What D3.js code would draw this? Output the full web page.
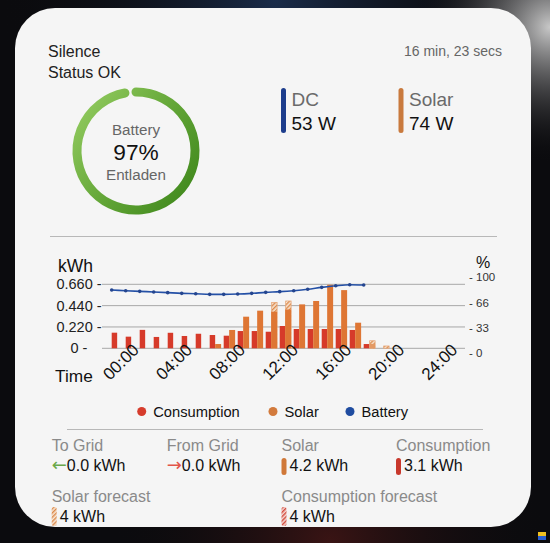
<!DOCTYPE html>
<html><head><meta charset="utf-8">
<script src="https://cdn.jsdelivr.net/npm/d3@7"></script>
<style>
html,body{margin:0;padding:0;width:550px;height:543px;overflow:hidden;background:#0b0b0e;}
svg{display:block;font-family:"Liberation Sans",Arial,Helvetica,sans-serif;}
</style></head><body>
<svg id="c" width="550" height="543"></svg>
<script>
// ---------- data ----------
const hours = d3.range(0, 19);
const consumption = [0.161,0.12,0.19,0.117,0.16,0.127,0.15,0.137,0.13,0.178,0.178,0.171,0.23,0.199,0.199,0.199,0.199,0.189,0.044];
const solar = [0,0,0,0,0,0,0,0.044,0.189,0.326,0.388,0.378,0.40,0.453,0.488,0.655,0.60,0.264,0.045];
const forecastHours = [11,12,18,19];
const solarForecast = [0.474,0.488,0.078,0.024];
const battery = [82.9,82.0,81.1,80.3,79.4,78.5,78.0,77.2,77.2,77.6,78.5,79.8,80.7,82.0,83.8,86.4,88.5,89.9,89.5];
const kwhTicks = [0,0.22,0.44,0.66];
const kwhTickLabels = ["0","0.220","0.440","0.660"];
const pctTicks = [0,33,66,100];
const timeTicks = [0,4,8,12,16,20,24];
const legendItems = [["Consumption","#d63c2c"],["Solar","#d27a3c"],["Battery","#1f4ca0"]];

const C = {red:"#d63a2a", orange:"#de7634", blue:"#2450a6", grid:"#a8a8a8"};

const svg = d3.select("#c");
const defs = svg.append("defs");

// background glows
const bg1 = defs.append("radialGradient").attr("id","bgBlue").attr("cx","0.5").attr("cy","0").attr("r","0.5");
bg1.append("stop").attr("offset","0").attr("stop-color","#1a2c4a");
bg1.append("stop").attr("offset","1").attr("stop-color","#0b0b0e").attr("stop-opacity",0);
const bg2 = defs.append("radialGradient").attr("id","bgGray").attr("cx","1").attr("cy","0.05").attr("r","0.25");
bg2.append("stop").attr("offset","0").attr("stop-color","#c8c8c8");
bg2.append("stop").attr("offset","1").attr("stop-color","#0b0b0e").attr("stop-opacity",0);
const bg3 = defs.append("radialGradient").attr("id","bgRed").attr("cx","0.6").attr("cy","1").attr("r","0.4");
bg3.append("stop").attr("offset","0").attr("stop-color","#3a1414");
bg3.append("stop").attr("offset","1").attr("stop-color","#0b0b0e").attr("stop-opacity",0);
svg.append("rect").attr("width",550).attr("height",543).attr("fill","#0b0b0e");
svg.append("rect").attr("width",550).attr("height",543).attr("fill","url(#bgBlue)");
svg.append("rect").attr("width",550).attr("height",543).attr("fill","url(#bgGray)");
svg.append("rect").attr("width",550).attr("height",543).attr("fill","url(#bgRed)");
svg.append("rect").attr("x",538).attr("y",532).attr("width",8).attr("height",4).attr("fill","#f0c020");
svg.append("rect").attr("x",538).attr("y",536).attr("width",8).attr("height",4).attr("fill","#2a60d0");

// card
svg.append("rect").attr("x",15).attr("y",8).attr("width",516).attr("height",519).attr("rx",40).attr("fill","#f5f5f5");

// patterns
function hatch(id, bgc, line){
  const p = defs.append("pattern").attr("id",id).attr("patternUnits","userSpaceOnUse")
    .attr("width",3).attr("height",3).attr("patternTransform","rotate(45)");
  p.append("rect").attr("width",3).attr("height",3).attr("fill",bgc);
  p.append("rect").attr("width",1.4).attr("height",3).attr("fill",line);
}
hatch("hatchO","#f8e6d4","#dc8a4c");
hatch("hatchR","#f5d8d4","#d2483a");

// header
svg.append("text").attr("x",48).attr("y",57).attr("font-size",16).attr("fill","#222").text("Silence");
svg.append("text").attr("x",48).attr("y",78).attr("font-size",16).attr("fill","#222").text("Status OK");
svg.append("text").attr("x",502).attr("y",56).attr("font-size",14).attr("fill","#666").attr("text-anchor","end").text("16 min, 23 secs");

// donut
const dg = defs.append("linearGradient").attr("id","donutG").attr("gradientUnits","userSpaceOnUse")
  .attr("x1",-60).attr("y1",-30).attr("x2",60).attr("y2",60);
dg.append("stop").attr("offset","0").attr("stop-color","#8cc65a");
dg.append("stop").attr("offset","0.5").attr("stop-color","#5fa334");
dg.append("stop").attr("offset","1").attr("stop-color","#3b8419");
const batteryPct = 97;
const ringScale = d3.scaleLinear().domain([0,100]).range([-Math.PI/2, 1.5*Math.PI]);
const ring = d3.path();
ring.arc(0,0,59,ringScale(0),ringScale(batteryPct));
const dgrp = svg.append("g").attr("transform","translate(136,151)");
dgrp.append("path").attr("d", ring.toString())
  .attr("fill","none").attr("stroke","url(#donutG)").attr("stroke-width",9).attr("stroke-linecap","round");
dgrp.append("text").attr("y",-16).attr("text-anchor","middle").attr("font-size",15.2).attr("fill","#666").text("Battery");
dgrp.append("text").attr("y",9).attr("text-anchor","middle").attr("font-size",22.7).attr("fill","#111").text(batteryPct+"%");
dgrp.append("text").attr("y",29).attr("text-anchor","middle").attr("font-size",15.2).attr("fill","#666").text("Entladen");

// DC / Solar tiles
const tiles = [["DC","53 W","#1d3d8c",281],["Solar","74 W","#c97a3e",398.5]];
tiles.forEach(t=>{
  svg.append("rect").attr("x",t[3]).attr("y",88).attr("width",5).attr("height",45).attr("rx",2.5).attr("fill",t[2]);
  svg.append("text").attr("x",t[3]+10.5).attr("y",106).attr("font-size",19).attr("fill","#6a6a6a").text(t[0]);
  svg.append("text").attr("x",t[3]+10.5).attr("y",130).attr("font-size",19).attr("fill","#111").text(t[1]);
});

svg.append("line").attr("x1",50).attr("x2",497).attr("y1",236.5).attr("y2",236.5).attr("stroke","#b8b8b8");

// ---------- chart ----------
const x = d3.scaleLinear().domain([0,24]).range([111.7,447.7]);
const xt = d3.scaleLinear().domain([0,24]).range([121.5,440]);
const y = d3.scaleLinear().domain([0,0.66]).range([348.3,284.3]);
const y2 = d3.scaleLinear().domain([0,100]).range([353,277]);
const bw = (x(1)-x(0))*0.39;

svg.append("text").attr("x",58).attr("y",272).attr("font-size",17.5).attr("fill","#111").text("kWh");
svg.append("text").attr("x",483).attr("y",268).attr("font-size",16).attr("fill","#111").attr("text-anchor","middle").text("%");
svg.append("text").attr("x",55).attr("y",382).attr("font-size",17.3).attr("fill","#111").text("Time");

// grid + left labels
const gridG = svg.append("g");
kwhTicks.forEach((v,i)=>{
  gridG.append("line").attr("x1",102).attr("x2",465).attr("y1",y(v)).attr("y2",y(v)).attr("stroke",C.grid).attr("stroke-width",1);
  gridG.append("text").attr("x",79).attr("y",y(v)).attr("dy","0.35em").attr("text-anchor","middle")
    .attr("font-size",14.5).attr("fill","#222").text(kwhTickLabels[i]+" -");
});
// right axis labels
pctTicks.forEach(v=>{
  svg.append("text").attr("x",469).attr("y",y2(v)).attr("dy","0.35em").attr("font-size",11.5).attr("fill","#333").text("- "+v);
});

// forecast bars (behind)
svg.append("g").selectAll("rect").data(forecastHours).join("rect")
  .attr("x",(h)=>x(h)+bw+0.5).attr("width",bw)
  .attr("y",(h,i)=>y(solarForecast[i])).attr("height",(h,i)=>y(0)-y(solarForecast[i]))
  .attr("fill","url(#hatchO)").attr("stroke","#e5a474").attr("stroke-width",0.7);

// consumption bars
svg.append("g").selectAll("rect").data(hours).join("rect")
  .attr("x",h=>x(h)).attr("width",bw)
  .attr("y",h=>y(consumption[h])).attr("height",h=>y(0)-y(consumption[h]))
  .attr("fill",C.red);
// solar bars
svg.append("g").selectAll("rect").data(hours.filter(h=>solar[h]>0 && h<18)).join("rect")
  .attr("x",h=>x(h)+bw).attr("width",bw+0.5)
  .attr("y",h=>y(solar[h])).attr("height",h=>y(0)-y(solar[h]))
  .attr("fill",C.orange);
svg.append("g").selectAll("rect").data(hours.filter(h=>h===18)).join("rect")
  .attr("x",h=>x(h)+bw+0.5).attr("width",bw)
  .attr("y",h=>y(solar[h])).attr("height",h=>y(0)-y(solar[h]))
  .attr("fill","#e49a64");

// battery line
const line = d3.line().x(h=>x(h)).y(h=>y2(battery[h])).curve(d3.curveMonotoneX);
svg.append("path").attr("d",line(hours)).attr("fill","none").attr("stroke",C.blue).attr("stroke-width",1.6);
svg.append("g").selectAll("circle").data(hours).join("circle")
  .attr("cx",h=>x(h)).attr("cy",h=>y2(battery[h])).attr("r",1.8).attr("fill","#24458f");

// time axis
const xAxis = d3.axisBottom(xt).tickValues(timeTicks).tickSize(0)
  .tickFormat(h=>String(h).padStart(2,"0")+":00");
const ax = svg.append("g").attr("transform","translate(0,351)").call(xAxis);
ax.select(".domain").remove();
ax.selectAll("text").attr("font-size",17).attr("fill","#111").attr("font-family","Liberation Sans, Arial, sans-serif")
  .attr("text-anchor","end").attr("dy",null).attr("y",0).attr("transform","translate(18,0) rotate(-45)");

// legend
const lg = svg.append("g");
const legendX = [141.7,273,350];
legendItems.forEach((d,i)=>{
  lg.append("circle").attr("cx",legendX[i]).attr("cy",411.5).attr("r",4.5).attr("fill",d[1]);
  lg.append("text").attr("x",legendX[i]+11.5).attr("y",411.5).attr("dy","0.35em").attr("font-size",14.7).attr("fill","#111").text(d[0]);
});
svg.append("line").attr("x1",67).attr("x2",483).attr("y1",429.5).attr("y2",429.5).attr("stroke","#b8b8b8");

// stats
const stats = [
  {label:"To Grid", x:51.7, arrow:"←", arrowColor:"#6aa84a", value:"0.0 kWh"},
  {label:"From Grid", x:166.7, arrow:"→", arrowColor:"#e2554a", value:"0.0 kWh"},
  {label:"Solar", x:281.5, bar:"#d07838", value:"4.2 kWh"},
  {label:"Consumption", x:396, bar:"#c8382c", value:"3.1 kWh"}
];
stats.forEach(s=>{
  svg.append("text").attr("x",s.x).attr("y",451).attr("font-size",16).attr("fill","#8a8a8a").text(s.label);
  if(s.arrow){
    const t = svg.append("text").attr("x",s.x).attr("y",471).attr("font-size",16).attr("fill","#111");
    t.append("tspan").attr("fill",s.arrowColor).attr("font-family","DejaVu Sans").attr("font-size",18).text(s.arrow);
    t.append("tspan").text(s.value);
  } else {
    svg.append("rect").attr("x",s.x).attr("y",458).attr("width",5).attr("height",17).attr("rx",2.5).attr("fill",s.bar);
    svg.append("text").attr("x",s.x+8).attr("y",471).attr("font-size",16).attr("fill","#111").text(s.value);
  }
});
const fstats = [
  {label:"Solar forecast", x:51.7, pat:"url(#hatchO)", value:"4 kWh"},
  {label:"Consumption forecast", x:281.5, pat:"url(#hatchR)", value:"4 kWh"}
];
fstats.forEach(s=>{
  svg.append("text").attr("x",s.x).attr("y",502).attr("font-size",16).attr("fill","#8a8a8a").text(s.label);
  svg.append("rect").attr("x",s.x).attr("y",507).attr("width",5).attr("height",19).attr("rx",2).attr("fill",s.pat);
  svg.append("text").attr("x",s.x+8).attr("y",522).attr("font-size",16).attr("fill","#111").text(s.value);
});
</script>
</body></html>
